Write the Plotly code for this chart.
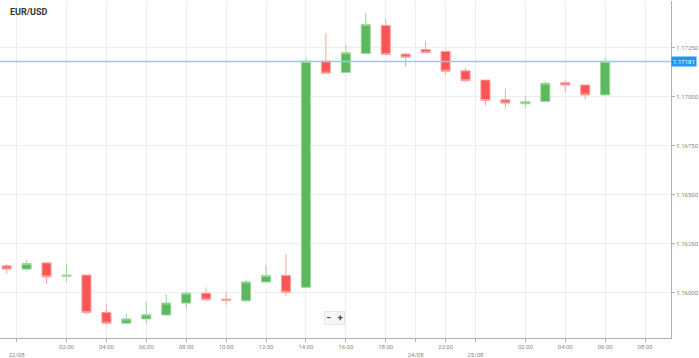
import plotly.graph_objects as go

# hourly slot index for each candle
slot = list(range(-1, 30))
open_ = [1.161364, 1.161197, 1.161515, 1.160833, 1.160894, 1.158990, 1.158434, 1.158651,
         1.158854, 1.159460, 1.159965, 1.159662, 1.159581, 1.160540, 1.160874, 1.160268,
         1.171834, 1.171247, 1.172222, 1.173652, 1.172187, 1.172424, 1.172323, 1.171330,
         1.170859, 1.169848, 1.169646, 1.169763, 1.170727, 1.170606, 1.170101]
high = [1.161465, 1.161667, 1.161601, 1.161449, 1.160924, 1.159429, 1.158904, 1.159545,
        1.159914, 1.160086, 1.160268, 1.160035, 1.160672, 1.161399, 1.161955, 1.172005,
        1.173268, 1.172677, 1.174278, 1.173990, 1.172257, 1.172844, 1.172389, 1.171465,
        1.170859, 1.170404, 1.170035, 1.170793, 1.170823, 1.170606, 1.172005]
low = [1.160975, 1.161100, 1.160439, 1.160556, 1.158904, 1.158333, 1.158384, 1.158367,
       1.158823, 1.159157, 1.159560, 1.159379, 1.159530, 1.160505, 1.159798, 1.160250,
       1.171180, 1.171230, 1.172200, 1.172150, 1.171530, 1.172257, 1.171126, 1.170773,
       1.169561, 1.169394, 1.169430, 1.169747, 1.170227, 1.169864, 1.170101]
close = [1.161197, 1.161480, 1.160808, 1.160884, 1.158975, 1.158434, 1.158651, 1.158874,
         1.159460, 1.159965, 1.159631, 1.159611, 1.160540, 1.160874, 1.160015, 1.171818,
         1.171212, 1.172257, 1.173702, 1.172172, 1.172020, 1.172257, 1.171313, 1.170825,
         1.169813, 1.169682, 1.169747, 1.170692, 1.170606, 1.170101, 1.171810]

x_tickvals = [-0.5, 2, 4, 6, 8, 10, 12, 14, 16, 18, 19.5, 21, 22.5, 25, 27, 29, 31]
x_ticktext = ["<br>22/08", "02:00", "04:00", "06:00", "08:00", "10:00", "12:00", "14:00",
              "16:00", "18:00", "<br>24/08", "22:00", "<br>25/08", "02:00", "04:00",
              "06:00", "08:00"]
y_tickvals = [1.16, 1.1625, 1.165, 1.1675, 1.17, 1.1725, 1.175]
current_price = 1.17181
symbol = "EUR/USD"

fig = go.Figure()
fig.add_trace(go.Candlestick(
    x=slot, open=open_, high=high, low=low, close=close,
    increasing=dict(line=dict(color="#9ed69e", width=1), fillcolor="#5cb85c"),
    decreasing=dict(line=dict(color="#fba3a3", width=1), fillcolor="#fa5555"),
    whiskerwidth=0, showlegend=False, hoverinfo="x+y",
))

fig.add_shape(type="line", xref="paper", x0=0, x1=1, yref="y",
              y0=current_price, y1=current_price,
              line=dict(color="#8ccdf5", width=1.5))

fig.add_annotation(xref="paper", x=1.0, xanchor="left", yref="y", y=current_price,
                   text=f"{current_price:.5f}", showarrow=False,
                   font=dict(size=6, color="white", family="Roboto"),
                   bgcolor="#2196f3", borderpad=1)

fig.add_annotation(xref="paper", x=0.012, xanchor="left", yref="paper", y=0.966,
                   yanchor="middle", text=f"<b>{symbol}</b>", showarrow=False,
                   font=dict(size=9, color="#333333", family="Roboto"))

fig.add_annotation(xref="paper", x=0.4985, xanchor="center", yref="paper", y=0.06,
                   yanchor="middle", text="<b>−</b>   <b>+</b>", showarrow=False,
                   font=dict(size=9, color="#444444", family="Roboto"),
                   bgcolor="#f6f6f6", bordercolor="#e6e6e6", borderwidth=1, borderpad=1)

fig.update_layout(
    width=699, height=358,
    margin=dict(l=0, r=23, t=1, b=16),
    paper_bgcolor="white", plot_bgcolor="white",
    font=dict(family="Roboto", size=6, color="#888888"),
    boxgap=0.35,
    xaxis=dict(
        range=[-1.333, 32.3], rangeslider=dict(visible=False),
        tickmode="array", tickvals=x_tickvals, ticktext=x_ticktext,
        showgrid=True, gridcolor="#eeeeee", gridwidth=1,
        showline=True, linecolor="#b0b0b0", linewidth=1,
        ticks="outside", ticklen=3, tickcolor="#b0b0b0",
        zeroline=False, fixedrange=True,
        tickfont=dict(size=6, color="#888888"),
    ),
    yaxis=dict(
        side="right", range=[1.157677, 1.174899],
        tickmode="array", tickvals=y_tickvals, tickformat=".5f",
        showgrid=True, gridcolor="#eeeeee", gridwidth=1,
        showline=True, linecolor="#b0b0b0", linewidth=1,
        ticks="outside", ticklen=3, tickcolor="#b0b0b0",
        zeroline=False, fixedrange=True,
        tickfont=dict(size=6, color="#888888"),
    ),
)

fig.write_html("out.html", config={"displayModeBar": False},
               post_script="document.body.style.margin='0';")
